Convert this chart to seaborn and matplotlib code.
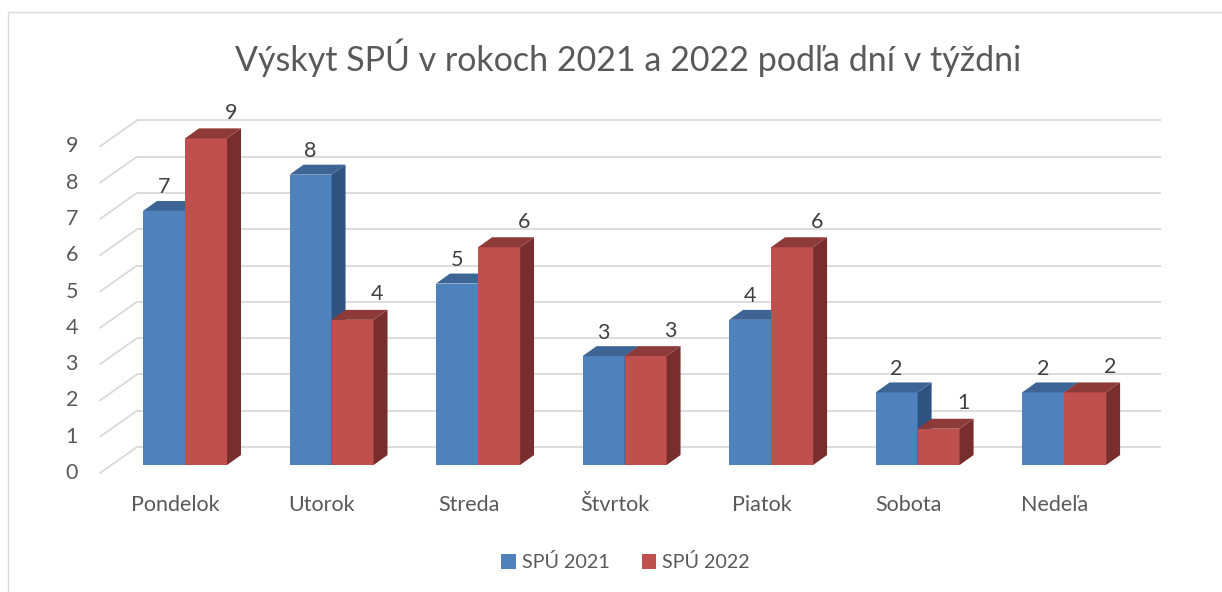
import matplotlib
matplotlib.use("Agg")
import matplotlib.pyplot as plt
import seaborn as sns
import pandas as pd
from matplotlib.patches import Polygon, Rectangle, Patch

days = ["Pondelok", "Utorok", "Streda", "Štvrtok", "Piatok", "Sobota", "Nedeľa"]
spu_2021 = [7, 8, 5, 3, 4, 2, 2]
spu_2022 = [9, 4, 6, 3, 6, 1, 2]
series_names = ["SPÚ 2021", "SPÚ 2022"]
y_ticks = list(range(0, 10))
title = "Výskyt SPÚ v rokoch 2021 a 2022 podľa dní v týždni"

front_cols = ["#4F81BD", "#C0504D"]
top_cols = ["#3C6494", "#8E3A38"]
side_cols = ["#2F5381", "#782E2C"]
grid_col = "#D9D9D9"
text_col = "#595959"

sns.set_theme(style="white")
plt.rcParams["font.family"] = ["Lato", "DejaVu Sans"]

df = pd.DataFrame({
    "day": days * 2,
    "series": [series_names[0]] * len(days) + [series_names[1]] * len(days),
    "value": spu_2021 + spu_2022,
})

fig = plt.figure(figsize=(12.22, 5.92), dpi=100)
ax = fig.add_axes([0.0615, 0.1777, 0.9172, 0.6683])

sns.barplot(data=df, x="day", y="value", hue="series", palette=front_cols,
            width=0.573, gap=0, saturation=1, linewidth=0, legend=False, ax=ax)

ax.set_xlim(-0.75, 6.9)
ax.set_ylim(-0.6, 10.3)
ax.axis("off")

# depth offsets (data units)
wall_dy = 0.496
front_dy = -0.22
wall_x0, wall_x1 = -0.328, 6.662
front_x0 = -0.58
bar_dx, bar_dy = 0.0956, 0.275

# gridlines: back wall + left diagonals
for v in y_ticks:
    ax.plot([wall_x0, wall_x1], [v + wall_dy, v + wall_dy], color=grid_col, lw=1.3, zorder=1,
            solid_capstyle="butt")
    ax.plot([front_x0, wall_x0], [v + front_dy, v + wall_dy], color=grid_col, lw=1.3, zorder=1)
    ax.text(-0.73, v + front_dy, str(v), ha="right", va="center", fontsize=15.5, color=text_col)

# 3D faces
n = len(days)
for k, p in enumerate(ax.patches):
    j = k // n
    i = k % n
    x0 = p.get_x()
    w = p.get_width()
    h = p.get_height()
    z = 3 + i * 4 + j * 2
    p.set_zorder(z)
    x1 = x0 + w
    side = Polygon([(x1, 0), (x1 + bar_dx, bar_dy), (x1 + bar_dx, h + bar_dy), (x1, h)],
                   closed=True, facecolor=side_cols[j], edgecolor="none", zorder=z + 0.5)
    top = Polygon([(x0, h), (x0 + bar_dx, h + bar_dy), (x1 + bar_dx, h + bar_dy), (x1, h)],
                  closed=True, facecolor=top_cols[j], edgecolor="none", zorder=z + 0.5)
    ax.add_patch(side)
    ax.add_patch(top)
    if j == 0:
        lx, ly = x0 + w / 2, h + 0.65
    else:
        lx, ly = x0 + w / 2 + 0.17, h + 0.7
    ax.text(lx, ly, str(int(h)), ha="center", va="center", fontsize=15.5, color="#404040", zorder=40)

# category labels
for i, d in enumerate(days):
    ax.text(i - 0.065, -1.1, d, ha="center", va="center", fontsize=15.5, color=text_col,
            clip_on=False)

fig.text(0.514, 0.902, title, ha="center", va="center", fontsize=24.5, color=text_col)

handles = [Patch(facecolor=c, edgecolor="none") for c in front_cols]
fig.legend(handles, series_names, loc="center", bbox_to_anchor=(0.512, 0.05), ncol=2,
           frameon=False, fontsize=14.2, handlelength=0.75, handleheight=0.75,
           handletextpad=0.3, columnspacing=1.6, labelcolor=text_col)

fig.add_artist(Rectangle((8 / 1222, -0.1), 1.2, (592 - 12) / 592 + 0.1, transform=fig.transFigure,
                         facecolor="none", edgecolor=grid_col, lw=1.0))

fig.savefig("out.png", dpi=100)
